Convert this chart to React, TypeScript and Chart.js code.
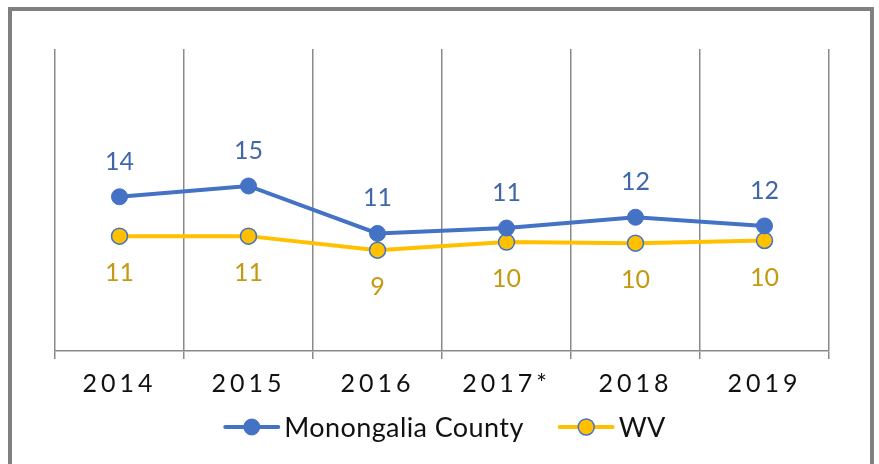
import React, { useEffect, useRef } from 'react';
import { Chart, registerables } from 'chart.js';

Chart.register(...registerables);

const categories = ['2014', '2015', '2016', '2017*', '2018', '2019'];
const monongaliaValues = [14.3, 15.3, 10.9, 11.4, 12.4, 11.6];
const wvValues = [10.65, 10.65, 9.35, 10.1, 10.0, 10.25];
const seriesNames = ['Monongalia County', 'WV'];

const FONT = 'Lato, "Noto Sans", sans-serif';
const BLUE = '#4472C4';
const GOLD = '#FFC000';
const BLUE_LABEL = '#4266AA';
const GOLD_LABEL = '#C49A12';

const framePlugin = {
  id: 'framePlugin',
  beforeDraw(chart: any) {
    const ctx = chart.ctx;
    ctx.save();
    ctx.fillStyle = '#ffffff';
    ctx.fillRect(0, 0, chart.width, chart.height);
    ctx.strokeStyle = '#808080';
    ctx.lineWidth = 4;
    ctx.strokeRect(10, 9, 862, 480);
    ctx.restore();
    (ctx as any).letterSpacing = '4px';
  },
  beforeDatasetsDraw(chart: any) {
    (chart.ctx as any).letterSpacing = '0px';
  },
};

const labelPlugin = {
  id: 'labelPlugin',
  afterDatasetsDraw(chart: any) {
    const ctx = chart.ctx;
    ctx.save();
    (ctx as any).letterSpacing = '0px';
    ctx.font = `25px ${FONT}`;
    ctx.textAlign = 'center';
    ctx.textBaseline = 'middle';
    chart.data.datasets.forEach((ds: any, di: number) => {
      const meta = chart.getDatasetMeta(di);
      meta.data.forEach((pt: any, i: number) => {
        const v = Math.round(ds.data[i]);
        ctx.fillStyle = di === 0 ? BLUE_LABEL : GOLD_LABEL;
        const dy = di === 0 ? -35 : 37;
        ctx.fillText(String(v), pt.x, pt.y + dy);
      });
    });
    ctx.restore();
  },
};

const legendPlugin = {
  id: 'customLegend',
  afterDraw(chart: any) {
    const ctx = chart.ctx;
    ctx.save();
    (ctx as any).letterSpacing = '0.4px';
    ctx.font = `27px ${FONT}`;
    ctx.textBaseline = 'middle';
    ctx.textAlign = 'left';
    const markerW = 55;
    const gapText = 5;
    const gapItem = 35;
    const items = chart.data.datasets.map((ds: any) => ({
      ds,
      w: markerW + gapText + ctx.measureText(ds.label).width,
    }));
    const total = items.reduce((s: number, it: any) => s + it.w, 0) + gapItem * (items.length - 1);
    const area = chart.chartArea;
    let x = (area.left + area.right) / 2 + 3 - total / 2;
    const y = 427;
    items.forEach((it: any) => {
      const ds = it.ds;
      ctx.strokeStyle = ds.borderColor;
      ctx.lineWidth = 4;
      ctx.lineCap = 'round';
      ctx.beginPath();
      ctx.moveTo(x + 1, y);
      ctx.lineTo(x + markerW - 1, y);
      ctx.stroke();
      ctx.beginPath();
      ctx.arc(x + markerW / 2, y, ds.pointRadius, 0, Math.PI * 2);
      ctx.fillStyle = ds.pointBackgroundColor;
      ctx.fill();
      ctx.lineWidth = ds.pointBorderWidth;
      ctx.strokeStyle = ds.pointBorderColor;
      ctx.stroke();
      ctx.fillStyle = '#111111';
      ctx.fillText(ds.label, x + markerW + gapText, y + 1);
      x += it.w + gapItem;
    });
    ctx.restore();
  },
};

export default function App() {
  const canvasRef = useRef<HTMLCanvasElement | null>(null);

  useEffect(() => {
    if (!canvasRef.current) return;
    const chart = new Chart(canvasRef.current, {
      type: 'line',
      data: {
        labels: categories,
        datasets: [
          {
            label: seriesNames[0],
            data: monongaliaValues,
            borderColor: BLUE,
            backgroundColor: BLUE,
            borderWidth: 4,
            pointRadius: 8,
            pointHoverRadius: 8,
            pointBackgroundColor: BLUE,
            pointBorderColor: BLUE,
            pointBorderWidth: 1,
            tension: 0,
          },
          {
            label: seriesNames[1],
            data: wvValues,
            borderColor: GOLD,
            backgroundColor: GOLD,
            borderWidth: 4,
            pointRadius: 8,
            pointHoverRadius: 8,
            pointBackgroundColor: GOLD,
            pointBorderColor: BLUE,
            pointBorderWidth: 1.5,
            tension: 0,
          },
        ],
      },
      options: {
        animation: false,
        responsive: true,
        maintainAspectRatio: false,
        layout: { padding: { left: 55, right: 50, top: 49, bottom: 0 } },
        plugins: {
          legend: { display: false },
          tooltip: { enabled: false },
        },
        scales: {
          x: {
            offset: true,
            grid: {
              offset: true,
              color: '#8a8a8a',
              lineWidth: 1.5,
              tickLength: 8,
              drawOnChartArea: true,
            },
            border: { display: true, color: '#8a8a8a', width: 1.5 },
            ticks: {
              color: '#111111',
              font: { family: FONT, size: 25 },
              padding: 10,
              maxRotation: 0,
            },
            afterFit: (axis: any) => {
              axis.height = 113;
            },
          },
          y: {
            display: false,
            min: 0,
            max: 28,
          },
        },
      },
      plugins: [framePlugin, labelPlugin, legendPlugin],
    });
    return () => chart.destroy();
  }, []);

  return (
    <div style={{ position: 'fixed', left: 0, top: 0, width: 879, height: 464, overflow: 'hidden', background: '#fff' }}>
      <canvas ref={canvasRef} />
    </div>
  );
}
